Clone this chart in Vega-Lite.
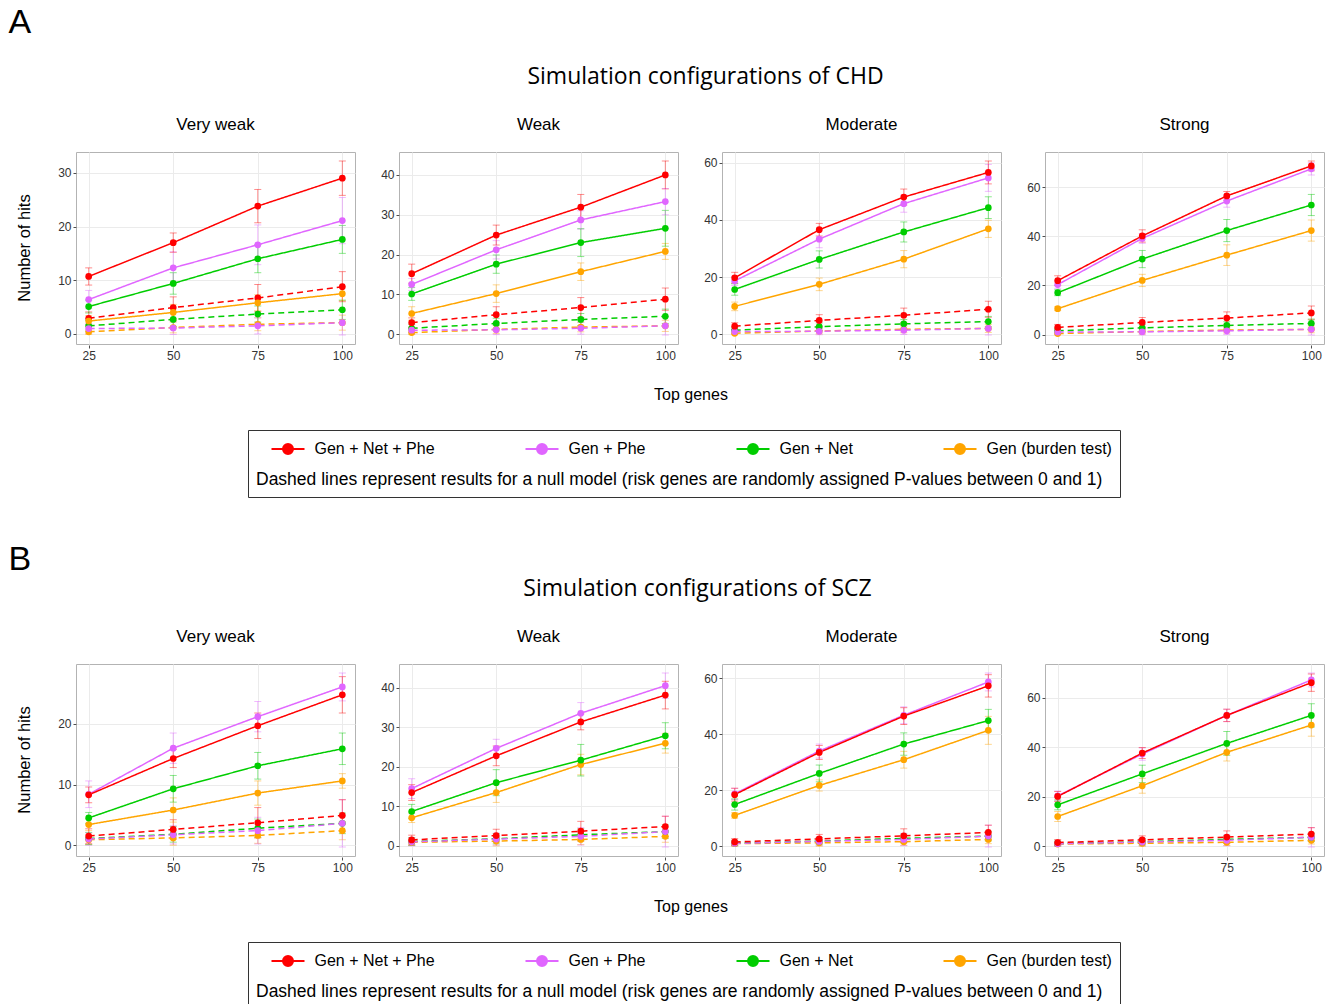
{
"$schema": "https://vega.github.io/schema/vega-lite/v6.json",
"background": "white",
"padding": {"left": 8, "top": 6, "right": 5, "bottom": 5},
"config": {
  "font": "Liberation Sans",
  "view": {"stroke": "#b3b3b3", "strokeWidth": 1},
  "axis": {"grid": true, "gridColor": "#ebebeb", "gridWidth": 1, "domain": false, "tickColor": "#4d4d4d", "tickSize": 3, "labelFontSize": 12, "labelColor": "#333333", "labelPadding": 2},
  "header": {"labelFont": "Liberation Sans", "labelColor": "black", "titleFont": "Liberation Sans", "titleColor": "black"}
},
"datasets": {"d": [
{"s":"CHD","t":"Very weak","m":"Gen (burden test)","n":"null","g":25,"h":0.4,"e":0.5},
{"s":"CHD","t":"Very weak","m":"Gen (burden test)","n":"null","g":50,"h":1.2,"e":1.0},
{"s":"CHD","t":"Very weak","m":"Gen (burden test)","n":"null","g":75,"h":1.8,"e":1.2},
{"s":"CHD","t":"Very weak","m":"Gen (burden test)","n":"null","g":100,"h":2.1,"e":1.4},
{"s":"CHD","t":"Very weak","m":"Gen + Net","n":"null","g":25,"h":1.5,"e":1.0},
{"s":"CHD","t":"Very weak","m":"Gen + Net","n":"null","g":50,"h":2.7,"e":1.3},
{"s":"CHD","t":"Very weak","m":"Gen + Net","n":"null","g":75,"h":3.7,"e":1.5},
{"s":"CHD","t":"Very weak","m":"Gen + Net","n":"null","g":100,"h":4.5,"e":1.8},
{"s":"CHD","t":"Very weak","m":"Gen + Phe","n":"null","g":25,"h":1.0,"e":0.9},
{"s":"CHD","t":"Very weak","m":"Gen + Phe","n":"null","g":50,"h":1.1,"e":1.2},
{"s":"CHD","t":"Very weak","m":"Gen + Phe","n":"null","g":75,"h":1.5,"e":1.5},
{"s":"CHD","t":"Very weak","m":"Gen + Phe","n":"null","g":100,"h":2.1,"e":2.3},
{"s":"CHD","t":"Very weak","m":"Gen + Net + Phe","n":"null","g":25,"h":2.9,"e":1.2},
{"s":"CHD","t":"Very weak","m":"Gen + Net + Phe","n":"null","g":50,"h":4.9,"e":2.0},
{"s":"CHD","t":"Very weak","m":"Gen + Net + Phe","n":"null","g":75,"h":6.7,"e":2.5},
{"s":"CHD","t":"Very weak","m":"Gen + Net + Phe","n":"null","g":100,"h":8.8,"e":2.8},
{"s":"CHD","t":"Very weak","m":"Gen (burden test)","n":"real","g":25,"h":2.4,"e":1.0},
{"s":"CHD","t":"Very weak","m":"Gen (burden test)","n":"real","g":50,"h":4.0,"e":1.5},
{"s":"CHD","t":"Very weak","m":"Gen (burden test)","n":"real","g":75,"h":5.8,"e":1.5},
{"s":"CHD","t":"Very weak","m":"Gen (burden test)","n":"real","g":100,"h":7.5,"e":1.3},
{"s":"CHD","t":"Very weak","m":"Gen + Net","n":"real","g":25,"h":5.1,"e":1.2},
{"s":"CHD","t":"Very weak","m":"Gen + Net","n":"real","g":50,"h":9.4,"e":2.0},
{"s":"CHD","t":"Very weak","m":"Gen + Net","n":"real","g":75,"h":14.0,"e":2.6},
{"s":"CHD","t":"Very weak","m":"Gen + Net","n":"real","g":100,"h":17.6,"e":2.6},
{"s":"CHD","t":"Very weak","m":"Gen + Phe","n":"real","g":25,"h":6.4,"e":1.7},
{"s":"CHD","t":"Very weak","m":"Gen + Phe","n":"real","g":50,"h":12.3,"e":3.0},
{"s":"CHD","t":"Very weak","m":"Gen + Phe","n":"real","g":75,"h":16.6,"e":3.7},
{"s":"CHD","t":"Very weak","m":"Gen + Phe","n":"real","g":100,"h":21.1,"e":4.3},
{"s":"CHD","t":"Very weak","m":"Gen + Net + Phe","n":"real","g":25,"h":10.7,"e":1.6},
{"s":"CHD","t":"Very weak","m":"Gen + Net + Phe","n":"real","g":50,"h":17.0,"e":1.8},
{"s":"CHD","t":"Very weak","m":"Gen + Net + Phe","n":"real","g":75,"h":23.8,"e":3.1},
{"s":"CHD","t":"Very weak","m":"Gen + Net + Phe","n":"real","g":100,"h":29.0,"e":3.2},
{"s":"CHD","t":"Weak","m":"Gen (burden test)","n":"null","g":25,"h":0.4,"e":0.5},
{"s":"CHD","t":"Weak","m":"Gen (burden test)","n":"null","g":50,"h":1.2,"e":1.0},
{"s":"CHD","t":"Weak","m":"Gen (burden test)","n":"null","g":75,"h":1.8,"e":1.2},
{"s":"CHD","t":"Weak","m":"Gen (burden test)","n":"null","g":100,"h":2.1,"e":1.4},
{"s":"CHD","t":"Weak","m":"Gen + Net","n":"null","g":25,"h":1.5,"e":1.0},
{"s":"CHD","t":"Weak","m":"Gen + Net","n":"null","g":50,"h":2.7,"e":1.3},
{"s":"CHD","t":"Weak","m":"Gen + Net","n":"null","g":75,"h":3.7,"e":1.5},
{"s":"CHD","t":"Weak","m":"Gen + Net","n":"null","g":100,"h":4.5,"e":1.8},
{"s":"CHD","t":"Weak","m":"Gen + Phe","n":"null","g":25,"h":1.0,"e":0.9},
{"s":"CHD","t":"Weak","m":"Gen + Phe","n":"null","g":50,"h":1.1,"e":1.2},
{"s":"CHD","t":"Weak","m":"Gen + Phe","n":"null","g":75,"h":1.5,"e":1.5},
{"s":"CHD","t":"Weak","m":"Gen + Phe","n":"null","g":100,"h":2.1,"e":2.3},
{"s":"CHD","t":"Weak","m":"Gen + Net + Phe","n":"null","g":25,"h":2.9,"e":1.2},
{"s":"CHD","t":"Weak","m":"Gen + Net + Phe","n":"null","g":50,"h":4.9,"e":2.0},
{"s":"CHD","t":"Weak","m":"Gen + Net + Phe","n":"null","g":75,"h":6.7,"e":2.5},
{"s":"CHD","t":"Weak","m":"Gen + Net + Phe","n":"null","g":100,"h":8.8,"e":2.8},
{"s":"CHD","t":"Weak","m":"Gen (burden test)","n":"real","g":25,"h":5.2,"e":1.7},
{"s":"CHD","t":"Weak","m":"Gen (burden test)","n":"real","g":50,"h":10.2,"e":2.2},
{"s":"CHD","t":"Weak","m":"Gen (burden test)","n":"real","g":75,"h":15.7,"e":2.2},
{"s":"CHD","t":"Weak","m":"Gen (burden test)","n":"real","g":100,"h":20.8,"e":2.0},
{"s":"CHD","t":"Weak","m":"Gen + Net","n":"real","g":25,"h":10.1,"e":1.6},
{"s":"CHD","t":"Weak","m":"Gen + Net","n":"real","g":50,"h":17.6,"e":2.3},
{"s":"CHD","t":"Weak","m":"Gen + Net","n":"real","g":75,"h":23.0,"e":3.5},
{"s":"CHD","t":"Weak","m":"Gen + Net","n":"real","g":100,"h":26.6,"e":4.5},
{"s":"CHD","t":"Weak","m":"Gen + Phe","n":"real","g":25,"h":12.5,"e":1.5},
{"s":"CHD","t":"Weak","m":"Gen + Phe","n":"real","g":50,"h":21.2,"e":2.3},
{"s":"CHD","t":"Weak","m":"Gen + Phe","n":"real","g":75,"h":28.7,"e":2.3},
{"s":"CHD","t":"Weak","m":"Gen + Phe","n":"real","g":100,"h":33.3,"e":3.3},
{"s":"CHD","t":"Weak","m":"Gen + Net + Phe","n":"real","g":25,"h":15.2,"e":2.4},
{"s":"CHD","t":"Weak","m":"Gen + Net + Phe","n":"real","g":50,"h":24.9,"e":2.5},
{"s":"CHD","t":"Weak","m":"Gen + Net + Phe","n":"real","g":75,"h":31.9,"e":3.2},
{"s":"CHD","t":"Weak","m":"Gen + Net + Phe","n":"real","g":100,"h":40.0,"e":3.5},
{"s":"CHD","t":"Moderate","m":"Gen (burden test)","n":"null","g":25,"h":0.4,"e":0.5},
{"s":"CHD","t":"Moderate","m":"Gen (burden test)","n":"null","g":50,"h":1.2,"e":1.0},
{"s":"CHD","t":"Moderate","m":"Gen (burden test)","n":"null","g":75,"h":1.8,"e":1.2},
{"s":"CHD","t":"Moderate","m":"Gen (burden test)","n":"null","g":100,"h":2.1,"e":1.4},
{"s":"CHD","t":"Moderate","m":"Gen + Net","n":"null","g":25,"h":1.5,"e":1.0},
{"s":"CHD","t":"Moderate","m":"Gen + Net","n":"null","g":50,"h":2.7,"e":1.3},
{"s":"CHD","t":"Moderate","m":"Gen + Net","n":"null","g":75,"h":3.7,"e":1.5},
{"s":"CHD","t":"Moderate","m":"Gen + Net","n":"null","g":100,"h":4.5,"e":1.8},
{"s":"CHD","t":"Moderate","m":"Gen + Phe","n":"null","g":25,"h":1.0,"e":0.9},
{"s":"CHD","t":"Moderate","m":"Gen + Phe","n":"null","g":50,"h":1.1,"e":1.2},
{"s":"CHD","t":"Moderate","m":"Gen + Phe","n":"null","g":75,"h":1.5,"e":1.5},
{"s":"CHD","t":"Moderate","m":"Gen + Phe","n":"null","g":100,"h":2.1,"e":2.3},
{"s":"CHD","t":"Moderate","m":"Gen + Net + Phe","n":"null","g":25,"h":2.9,"e":1.2},
{"s":"CHD","t":"Moderate","m":"Gen + Net + Phe","n":"null","g":50,"h":4.9,"e":2.0},
{"s":"CHD","t":"Moderate","m":"Gen + Net + Phe","n":"null","g":75,"h":6.7,"e":2.5},
{"s":"CHD","t":"Moderate","m":"Gen + Net + Phe","n":"null","g":100,"h":8.8,"e":2.8},
{"s":"CHD","t":"Moderate","m":"Gen (burden test)","n":"real","g":25,"h":9.8,"e":1.5},
{"s":"CHD","t":"Moderate","m":"Gen (burden test)","n":"real","g":50,"h":17.5,"e":2.2},
{"s":"CHD","t":"Moderate","m":"Gen (burden test)","n":"real","g":75,"h":26.3,"e":3.0},
{"s":"CHD","t":"Moderate","m":"Gen (burden test)","n":"real","g":100,"h":36.9,"e":3.0},
{"s":"CHD","t":"Moderate","m":"Gen + Net","n":"real","g":25,"h":15.7,"e":2.0},
{"s":"CHD","t":"Moderate","m":"Gen + Net","n":"real","g":50,"h":26.2,"e":3.0},
{"s":"CHD","t":"Moderate","m":"Gen + Net","n":"real","g":75,"h":35.8,"e":3.5},
{"s":"CHD","t":"Moderate","m":"Gen + Net","n":"real","g":100,"h":44.3,"e":3.8},
{"s":"CHD","t":"Moderate","m":"Gen + Phe","n":"real","g":25,"h":18.7,"e":1.6},
{"s":"CHD","t":"Moderate","m":"Gen + Phe","n":"real","g":50,"h":33.3,"e":3.0},
{"s":"CHD","t":"Moderate","m":"Gen + Phe","n":"real","g":75,"h":45.7,"e":3.0},
{"s":"CHD","t":"Moderate","m":"Gen + Phe","n":"real","g":100,"h":54.7,"e":4.7},
{"s":"CHD","t":"Moderate","m":"Gen + Net + Phe","n":"real","g":25,"h":19.8,"e":1.9},
{"s":"CHD","t":"Moderate","m":"Gen + Net + Phe","n":"real","g":50,"h":36.6,"e":2.2},
{"s":"CHD","t":"Moderate","m":"Gen + Net + Phe","n":"real","g":75,"h":48.0,"e":2.8},
{"s":"CHD","t":"Moderate","m":"Gen + Net + Phe","n":"real","g":100,"h":56.6,"e":4.0},
{"s":"CHD","t":"Strong","m":"Gen (burden test)","n":"null","g":25,"h":0.4,"e":0.5},
{"s":"CHD","t":"Strong","m":"Gen (burden test)","n":"null","g":50,"h":1.2,"e":1.0},
{"s":"CHD","t":"Strong","m":"Gen (burden test)","n":"null","g":75,"h":1.8,"e":1.2},
{"s":"CHD","t":"Strong","m":"Gen (burden test)","n":"null","g":100,"h":2.1,"e":1.4},
{"s":"CHD","t":"Strong","m":"Gen + Net","n":"null","g":25,"h":1.5,"e":1.0},
{"s":"CHD","t":"Strong","m":"Gen + Net","n":"null","g":50,"h":2.7,"e":1.3},
{"s":"CHD","t":"Strong","m":"Gen + Net","n":"null","g":75,"h":3.7,"e":1.5},
{"s":"CHD","t":"Strong","m":"Gen + Net","n":"null","g":100,"h":4.5,"e":1.8},
{"s":"CHD","t":"Strong","m":"Gen + Phe","n":"null","g":25,"h":1.0,"e":0.9},
{"s":"CHD","t":"Strong","m":"Gen + Phe","n":"null","g":50,"h":1.1,"e":1.2},
{"s":"CHD","t":"Strong","m":"Gen + Phe","n":"null","g":75,"h":1.5,"e":1.5},
{"s":"CHD","t":"Strong","m":"Gen + Phe","n":"null","g":100,"h":2.1,"e":2.3},
{"s":"CHD","t":"Strong","m":"Gen + Net + Phe","n":"null","g":25,"h":2.9,"e":1.2},
{"s":"CHD","t":"Strong","m":"Gen + Net + Phe","n":"null","g":50,"h":4.9,"e":2.0},
{"s":"CHD","t":"Strong","m":"Gen + Net + Phe","n":"null","g":75,"h":6.7,"e":2.5},
{"s":"CHD","t":"Strong","m":"Gen + Net + Phe","n":"null","g":100,"h":8.8,"e":2.8},
{"s":"CHD","t":"Strong","m":"Gen (burden test)","n":"real","g":25,"h":10.5,"e":0.8},
{"s":"CHD","t":"Strong","m":"Gen (burden test)","n":"real","g":50,"h":22.0,"e":2.5},
{"s":"CHD","t":"Strong","m":"Gen (burden test)","n":"real","g":75,"h":32.3,"e":4.2},
{"s":"CHD","t":"Strong","m":"Gen (burden test)","n":"real","g":100,"h":42.3,"e":4.3},
{"s":"CHD","t":"Strong","m":"Gen + Net","n":"real","g":25,"h":17.0,"e":1.2},
{"s":"CHD","t":"Strong","m":"Gen + Net","n":"real","g":50,"h":30.7,"e":3.5},
{"s":"CHD","t":"Strong","m":"Gen + Net","n":"real","g":75,"h":42.3,"e":4.5},
{"s":"CHD","t":"Strong","m":"Gen + Net","n":"real","g":100,"h":52.7,"e":4.3},
{"s":"CHD","t":"Strong","m":"Gen + Phe","n":"real","g":25,"h":20.3,"e":1.5},
{"s":"CHD","t":"Strong","m":"Gen + Phe","n":"real","g":50,"h":39.1,"e":2.0},
{"s":"CHD","t":"Strong","m":"Gen + Phe","n":"real","g":75,"h":54.3,"e":2.5},
{"s":"CHD","t":"Strong","m":"Gen + Phe","n":"real","g":100,"h":67.4,"e":2.5},
{"s":"CHD","t":"Strong","m":"Gen + Net + Phe","n":"real","g":25,"h":21.9,"e":2.0},
{"s":"CHD","t":"Strong","m":"Gen + Net + Phe","n":"real","g":50,"h":40.1,"e":2.5},
{"s":"CHD","t":"Strong","m":"Gen + Net + Phe","n":"real","g":75,"h":56.4,"e":1.8},
{"s":"CHD","t":"Strong","m":"Gen + Net + Phe","n":"real","g":100,"h":68.6,"e":2.0},
{"s":"SCZ","t":"Very weak","m":"Gen (burden test)","n":"null","g":25,"h":0.9,"e":0.8},
{"s":"SCZ","t":"Very weak","m":"Gen (burden test)","n":"null","g":50,"h":1.2,"e":1.2},
{"s":"SCZ","t":"Very weak","m":"Gen (burden test)","n":"null","g":75,"h":1.6,"e":1.3},
{"s":"SCZ","t":"Very weak","m":"Gen (burden test)","n":"null","g":100,"h":2.4,"e":1.5},
{"s":"SCZ","t":"Very weak","m":"Gen + Net","n":"null","g":25,"h":1.1,"e":1.0},
{"s":"SCZ","t":"Very weak","m":"Gen + Net","n":"null","g":50,"h":1.8,"e":1.3},
{"s":"SCZ","t":"Very weak","m":"Gen + Net","n":"null","g":75,"h":2.8,"e":1.5},
{"s":"SCZ","t":"Very weak","m":"Gen + Net","n":"null","g":100,"h":3.6,"e":1.7},
{"s":"SCZ","t":"Very weak","m":"Gen + Phe","n":"null","g":25,"h":1.0,"e":1.0},
{"s":"SCZ","t":"Very weak","m":"Gen + Phe","n":"null","g":50,"h":1.7,"e":1.5},
{"s":"SCZ","t":"Very weak","m":"Gen + Phe","n":"null","g":75,"h":2.4,"e":2.2},
{"s":"SCZ","t":"Very weak","m":"Gen + Phe","n":"null","g":100,"h":3.6,"e":3.9},
{"s":"SCZ","t":"Very weak","m":"Gen + Net + Phe","n":"null","g":25,"h":1.5,"e":1.2},
{"s":"SCZ","t":"Very weak","m":"Gen + Net + Phe","n":"null","g":50,"h":2.6,"e":1.6},
{"s":"SCZ","t":"Very weak","m":"Gen + Net + Phe","n":"null","g":75,"h":3.7,"e":2.5},
{"s":"SCZ","t":"Very weak","m":"Gen + Net + Phe","n":"null","g":100,"h":4.9,"e":2.6},
{"s":"SCZ","t":"Very weak","m":"Gen (burden test)","n":"real","g":25,"h":3.4,"e":1.0},
{"s":"SCZ","t":"Very weak","m":"Gen (burden test)","n":"real","g":50,"h":5.8,"e":2.0},
{"s":"SCZ","t":"Very weak","m":"Gen (burden test)","n":"real","g":75,"h":8.6,"e":2.0},
{"s":"SCZ","t":"Very weak","m":"Gen (burden test)","n":"real","g":100,"h":10.6,"e":1.2},
{"s":"SCZ","t":"Very weak","m":"Gen + Net","n":"real","g":25,"h":4.5,"e":0.9},
{"s":"SCZ","t":"Very weak","m":"Gen + Net","n":"real","g":50,"h":9.3,"e":2.2},
{"s":"SCZ","t":"Very weak","m":"Gen + Net","n":"real","g":75,"h":13.1,"e":2.2},
{"s":"SCZ","t":"Very weak","m":"Gen + Net","n":"real","g":100,"h":15.9,"e":2.6},
{"s":"SCZ","t":"Very weak","m":"Gen + Phe","n":"real","g":25,"h":8.4,"e":2.2},
{"s":"SCZ","t":"Very weak","m":"Gen + Phe","n":"real","g":50,"h":16.0,"e":2.5},
{"s":"SCZ","t":"Very weak","m":"Gen + Phe","n":"real","g":75,"h":21.2,"e":2.5},
{"s":"SCZ","t":"Very weak","m":"Gen + Phe","n":"real","g":100,"h":26.1,"e":2.3},
{"s":"SCZ","t":"Very weak","m":"Gen + Net + Phe","n":"real","g":25,"h":8.3,"e":1.3},
{"s":"SCZ","t":"Very weak","m":"Gen + Net + Phe","n":"real","g":50,"h":14.3,"e":1.5},
{"s":"SCZ","t":"Very weak","m":"Gen + Net + Phe","n":"real","g":75,"h":19.7,"e":2.1},
{"s":"SCZ","t":"Very weak","m":"Gen + Net + Phe","n":"real","g":100,"h":24.8,"e":3.0},
{"s":"SCZ","t":"Weak","m":"Gen (burden test)","n":"null","g":25,"h":0.9,"e":0.8},
{"s":"SCZ","t":"Weak","m":"Gen (burden test)","n":"null","g":50,"h":1.2,"e":1.2},
{"s":"SCZ","t":"Weak","m":"Gen (burden test)","n":"null","g":75,"h":1.6,"e":1.3},
{"s":"SCZ","t":"Weak","m":"Gen (burden test)","n":"null","g":100,"h":2.4,"e":1.5},
{"s":"SCZ","t":"Weak","m":"Gen + Net","n":"null","g":25,"h":1.1,"e":1.0},
{"s":"SCZ","t":"Weak","m":"Gen + Net","n":"null","g":50,"h":1.8,"e":1.3},
{"s":"SCZ","t":"Weak","m":"Gen + Net","n":"null","g":75,"h":2.8,"e":1.5},
{"s":"SCZ","t":"Weak","m":"Gen + Net","n":"null","g":100,"h":3.6,"e":1.7},
{"s":"SCZ","t":"Weak","m":"Gen + Phe","n":"null","g":25,"h":1.0,"e":1.0},
{"s":"SCZ","t":"Weak","m":"Gen + Phe","n":"null","g":50,"h":1.7,"e":1.5},
{"s":"SCZ","t":"Weak","m":"Gen + Phe","n":"null","g":75,"h":2.4,"e":2.2},
{"s":"SCZ","t":"Weak","m":"Gen + Phe","n":"null","g":100,"h":3.6,"e":3.9},
{"s":"SCZ","t":"Weak","m":"Gen + Net + Phe","n":"null","g":25,"h":1.5,"e":1.2},
{"s":"SCZ","t":"Weak","m":"Gen + Net + Phe","n":"null","g":50,"h":2.6,"e":1.6},
{"s":"SCZ","t":"Weak","m":"Gen + Net + Phe","n":"null","g":75,"h":3.7,"e":2.5},
{"s":"SCZ","t":"Weak","m":"Gen + Net + Phe","n":"null","g":100,"h":4.9,"e":2.6},
{"s":"SCZ","t":"Weak","m":"Gen (burden test)","n":"real","g":25,"h":7.1,"e":1.2},
{"s":"SCZ","t":"Weak","m":"Gen (burden test)","n":"real","g":50,"h":13.5,"e":2.5},
{"s":"SCZ","t":"Weak","m":"Gen (burden test)","n":"real","g":75,"h":20.6,"e":2.6},
{"s":"SCZ","t":"Weak","m":"Gen (burden test)","n":"real","g":100,"h":26.0,"e":2.5},
{"s":"SCZ","t":"Weak","m":"Gen + Net","n":"real","g":25,"h":8.7,"e":1.8},
{"s":"SCZ","t":"Weak","m":"Gen + Net","n":"real","g":50,"h":16.0,"e":3.3},
{"s":"SCZ","t":"Weak","m":"Gen + Net","n":"real","g":75,"h":21.7,"e":4.0},
{"s":"SCZ","t":"Weak","m":"Gen + Net","n":"real","g":100,"h":27.9,"e":3.3},
{"s":"SCZ","t":"Weak","m":"Gen + Phe","n":"real","g":25,"h":14.5,"e":2.5},
{"s":"SCZ","t":"Weak","m":"Gen + Phe","n":"real","g":50,"h":24.7,"e":2.3},
{"s":"SCZ","t":"Weak","m":"Gen + Phe","n":"real","g":75,"h":33.6,"e":2.7},
{"s":"SCZ","t":"Weak","m":"Gen + Phe","n":"real","g":100,"h":40.6,"e":3.2},
{"s":"SCZ","t":"Weak","m":"Gen + Net + Phe","n":"real","g":25,"h":13.5,"e":2.0},
{"s":"SCZ","t":"Weak","m":"Gen + Net + Phe","n":"real","g":50,"h":22.8,"e":2.5},
{"s":"SCZ","t":"Weak","m":"Gen + Net + Phe","n":"real","g":75,"h":31.4,"e":2.0},
{"s":"SCZ","t":"Weak","m":"Gen + Net + Phe","n":"real","g":100,"h":38.2,"e":3.5},
{"s":"SCZ","t":"Moderate","m":"Gen (burden test)","n":"null","g":25,"h":0.9,"e":0.8},
{"s":"SCZ","t":"Moderate","m":"Gen (burden test)","n":"null","g":50,"h":1.2,"e":1.2},
{"s":"SCZ","t":"Moderate","m":"Gen (burden test)","n":"null","g":75,"h":1.6,"e":1.3},
{"s":"SCZ","t":"Moderate","m":"Gen (burden test)","n":"null","g":100,"h":2.4,"e":1.5},
{"s":"SCZ","t":"Moderate","m":"Gen + Net","n":"null","g":25,"h":1.1,"e":1.0},
{"s":"SCZ","t":"Moderate","m":"Gen + Net","n":"null","g":50,"h":1.8,"e":1.3},
{"s":"SCZ","t":"Moderate","m":"Gen + Net","n":"null","g":75,"h":2.8,"e":1.5},
{"s":"SCZ","t":"Moderate","m":"Gen + Net","n":"null","g":100,"h":3.6,"e":1.7},
{"s":"SCZ","t":"Moderate","m":"Gen + Phe","n":"null","g":25,"h":1.0,"e":1.0},
{"s":"SCZ","t":"Moderate","m":"Gen + Phe","n":"null","g":50,"h":1.7,"e":1.5},
{"s":"SCZ","t":"Moderate","m":"Gen + Phe","n":"null","g":75,"h":2.4,"e":2.2},
{"s":"SCZ","t":"Moderate","m":"Gen + Phe","n":"null","g":100,"h":3.6,"e":3.9},
{"s":"SCZ","t":"Moderate","m":"Gen + Net + Phe","n":"null","g":25,"h":1.5,"e":1.2},
{"s":"SCZ","t":"Moderate","m":"Gen + Net + Phe","n":"null","g":50,"h":2.6,"e":1.6},
{"s":"SCZ","t":"Moderate","m":"Gen + Net + Phe","n":"null","g":75,"h":3.7,"e":2.5},
{"s":"SCZ","t":"Moderate","m":"Gen + Net + Phe","n":"null","g":100,"h":4.9,"e":2.6},
{"s":"SCZ","t":"Moderate","m":"Gen (burden test)","n":"real","g":25,"h":11.0,"e":1.0},
{"s":"SCZ","t":"Moderate","m":"Gen (burden test)","n":"real","g":50,"h":21.7,"e":2.0},
{"s":"SCZ","t":"Moderate","m":"Gen (burden test)","n":"real","g":75,"h":30.9,"e":3.0},
{"s":"SCZ","t":"Moderate","m":"Gen (burden test)","n":"real","g":100,"h":41.4,"e":5.0},
{"s":"SCZ","t":"Moderate","m":"Gen + Net","n":"real","g":25,"h":14.9,"e":2.0},
{"s":"SCZ","t":"Moderate","m":"Gen + Net","n":"real","g":50,"h":26.0,"e":3.0},
{"s":"SCZ","t":"Moderate","m":"Gen + Net","n":"real","g":75,"h":36.5,"e":4.0},
{"s":"SCZ","t":"Moderate","m":"Gen + Net","n":"real","g":100,"h":44.9,"e":4.0},
{"s":"SCZ","t":"Moderate","m":"Gen + Phe","n":"real","g":25,"h":18.7,"e":2.0},
{"s":"SCZ","t":"Moderate","m":"Gen + Phe","n":"real","g":50,"h":34.0,"e":2.5},
{"s":"SCZ","t":"Moderate","m":"Gen + Phe","n":"real","g":75,"h":46.8,"e":3.0},
{"s":"SCZ","t":"Moderate","m":"Gen + Phe","n":"real","g":100,"h":58.7,"e":3.2},
{"s":"SCZ","t":"Moderate","m":"Gen + Net + Phe","n":"real","g":25,"h":18.4,"e":2.3},
{"s":"SCZ","t":"Moderate","m":"Gen + Net + Phe","n":"real","g":50,"h":33.5,"e":2.5},
{"s":"SCZ","t":"Moderate","m":"Gen + Net + Phe","n":"real","g":75,"h":46.5,"e":3.0},
{"s":"SCZ","t":"Moderate","m":"Gen + Net + Phe","n":"real","g":100,"h":57.3,"e":4.0},
{"s":"SCZ","t":"Strong","m":"Gen (burden test)","n":"null","g":25,"h":0.9,"e":0.8},
{"s":"SCZ","t":"Strong","m":"Gen (burden test)","n":"null","g":50,"h":1.2,"e":1.2},
{"s":"SCZ","t":"Strong","m":"Gen (burden test)","n":"null","g":75,"h":1.6,"e":1.3},
{"s":"SCZ","t":"Strong","m":"Gen (burden test)","n":"null","g":100,"h":2.4,"e":1.5},
{"s":"SCZ","t":"Strong","m":"Gen + Net","n":"null","g":25,"h":1.1,"e":1.0},
{"s":"SCZ","t":"Strong","m":"Gen + Net","n":"null","g":50,"h":1.8,"e":1.3},
{"s":"SCZ","t":"Strong","m":"Gen + Net","n":"null","g":75,"h":2.8,"e":1.5},
{"s":"SCZ","t":"Strong","m":"Gen + Net","n":"null","g":100,"h":3.6,"e":1.7},
{"s":"SCZ","t":"Strong","m":"Gen + Phe","n":"null","g":25,"h":1.0,"e":1.0},
{"s":"SCZ","t":"Strong","m":"Gen + Phe","n":"null","g":50,"h":1.7,"e":1.5},
{"s":"SCZ","t":"Strong","m":"Gen + Phe","n":"null","g":75,"h":2.4,"e":2.2},
{"s":"SCZ","t":"Strong","m":"Gen + Phe","n":"null","g":100,"h":3.6,"e":3.9},
{"s":"SCZ","t":"Strong","m":"Gen + Net + Phe","n":"null","g":25,"h":1.5,"e":1.2},
{"s":"SCZ","t":"Strong","m":"Gen + Net + Phe","n":"null","g":50,"h":2.6,"e":1.6},
{"s":"SCZ","t":"Strong","m":"Gen + Net + Phe","n":"null","g":75,"h":3.7,"e":2.5},
{"s":"SCZ","t":"Strong","m":"Gen + Net + Phe","n":"null","g":100,"h":4.9,"e":2.6},
{"s":"SCZ","t":"Strong","m":"Gen (burden test)","n":"real","g":25,"h":12.0,"e":2.0},
{"s":"SCZ","t":"Strong","m":"Gen (burden test)","n":"real","g":50,"h":24.4,"e":3.0},
{"s":"SCZ","t":"Strong","m":"Gen (burden test)","n":"real","g":75,"h":37.9,"e":3.5},
{"s":"SCZ","t":"Strong","m":"Gen (burden test)","n":"real","g":100,"h":48.9,"e":4.5},
{"s":"SCZ","t":"Strong","m":"Gen + Net","n":"real","g":25,"h":16.7,"e":2.0},
{"s":"SCZ","t":"Strong","m":"Gen + Net","n":"real","g":50,"h":29.2,"e":3.5},
{"s":"SCZ","t":"Strong","m":"Gen + Net","n":"real","g":75,"h":41.5,"e":4.8},
{"s":"SCZ","t":"Strong","m":"Gen + Net","n":"real","g":100,"h":52.8,"e":4.7},
{"s":"SCZ","t":"Strong","m":"Gen + Phe","n":"real","g":25,"h":20.3,"e":2.0},
{"s":"SCZ","t":"Strong","m":"Gen + Phe","n":"real","g":50,"h":37.2,"e":2.5},
{"s":"SCZ","t":"Strong","m":"Gen + Phe","n":"real","g":75,"h":52.8,"e":2.5},
{"s":"SCZ","t":"Strong","m":"Gen + Phe","n":"real","g":100,"h":67.1,"e":2.8},
{"s":"SCZ","t":"Strong","m":"Gen + Net + Phe","n":"real","g":25,"h":20.1,"e":2.0},
{"s":"SCZ","t":"Strong","m":"Gen + Net + Phe","n":"real","g":50,"h":37.6,"e":2.2},
{"s":"SCZ","t":"Strong","m":"Gen + Net + Phe","n":"real","g":75,"h":52.8,"e":2.5},
{"s":"SCZ","t":"Strong","m":"Gen + Net + Phe","n":"real","g":100,"h":66.0,"e":3.5}
]},
"resolve": {"legend": {"color": "independent", "strokeDash": "independent"}},
"spacing": 45,
"vconcat": [
{
  "title": {"text": "A", "anchor": "start", "fontSize": 34, "fontWeight": "normal", "font": "Liberation Sans", "color": "black", "offset": 26, "dx": -8},
  "vconcat": [{
    "data": {"name": "d"},
    "transform": [{"filter": "datum.s === 'CHD'"}],
    "title": {"text": "Simulation configurations of CHD", "anchor": "middle", "font": "Open Sans", "fontSize": 23, "fontWeight": "normal", "color": "black", "offset": 27, "dx": 35},
    "facet": {
      "row": {"field": "s", "type": "nominal", "header": {"title": null, "labelExpr": "'Number of hits'", "labelAngle": -90, "labelOrient": "left", "labelFontSize": 16.5, "labelPadding": 16}},
      "column": {"field": "t", "type": "nominal", "sort": ["Very weak", "Weak", "Moderate", "Strong"], "header": {"title": "Top genes", "titleOrient": "bottom", "labelOrient": "top", "labelFontSize": 17, "titleFontSize": 16, "titleFontWeight": "normal", "labelPadding": 17, "titlePadding": 16}}
    },
    "spacing": {"column": 24, "row": 10},
    "resolve": {"scale": {"y": "independent"}},
    "spec": {
      "width": 279, "height": 192,
      "encoding": {
        "x": {"field": "g", "type": "quantitative", "scale": {"domain": [21.25, 103.75], "nice": false}, "axis": {"values": [25, 50, 75, 100], "title": null}},
        "y": {"field": "h", "type": "quantitative", "scale": {"zero": false, "nice": false, "padding": 9}, "axis": {"tickCount": 4, "title": null}},
        "color": {"field": "m", "type": "nominal", "scale": {"domain": ["Gen + Net + Phe", "Gen + Phe", "Gen + Net", "Gen (burden test)"], "range": ["#ff0000", "#e066ff", "#00cd00", "#ffa500"]},
          "legend": {"orient": "none", "legendX": 172, "legendY": 278, "direction": "horizontal", "title": "Dashed lines represent results for a null model (risk genes are randomly assigned P-values between 0 and 1)", "titleOrient": "bottom", "titleFontSize": 17.5, "titleFontWeight": "normal", "titleColor": "black", "titleLimit": 1200, "titlePadding": 13, "labelFontSize": 16, "labelColor": "black", "labelLimit": 400, "labelOffset": 15.5, "symbolOffset": 21, "columnPadding": 75, "symbolType": "M-1.65,0L1.65,0M-0.5,0A0.5,0.5,0,1,1,0.5,0A0.5,0.5,0,1,1,-0.5,0Z", "symbolSize": 400, "symbolStrokeWidth": 2, "strokeColor": "#333333", "padding": 8,
            "encode": {"symbols": {"update": {"fill": {"scale": "color", "field": "value"}, "stroke": {"scale": "color", "field": "value"}, "opacity": {"value": 1}, "strokeDash": {"value": []}}}}}}
      },
      "layer": [
        {"mark": {"type": "errorbar", "ticks": true, "size": 7, "thickness": 1, "rule": {"opacity": 0.45}, "ticks": {"opacity": 0.45}}, "encoding": {"yError": {"field": "e"}}},
        {"mark": {"type": "line", "strokeWidth": 1.5}, "encoding": {"strokeDash": {"field": "n", "type": "nominal", "scale": {"domain": ["real", "null"], "range": [[1, 0], [6, 4]]}, "legend": null}}},
        {"mark": {"type": "point", "filled": true, "opacity": 1, "size": 45}, "encoding": {"detail": {"field": "n"}}}
      ]
    }
  }]
},
{
  "title": {"text": "B", "anchor": "start", "fontSize": 34, "fontWeight": "normal", "font": "Liberation Sans", "color": "black", "offset": 1, "dx": -8},
  "vconcat": [{
    "data": {"name": "d"},
    "transform": [{"filter": "datum.s === 'SCZ'"}],
    "title": {"text": "Simulation configurations of SCZ", "anchor": "middle", "font": "Open Sans", "fontSize": 23, "fontWeight": "normal", "color": "black", "offset": 27, "dx": 27},
    "facet": {
      "row": {"field": "s", "type": "nominal", "header": {"title": null, "labelExpr": "'Number of hits'", "labelAngle": -90, "labelOrient": "left", "labelFontSize": 16.5, "labelPadding": 16}},
      "column": {"field": "t", "type": "nominal", "sort": ["Very weak", "Weak", "Moderate", "Strong"], "header": {"title": "Top genes", "titleOrient": "bottom", "labelOrient": "top", "labelFontSize": 17, "titleFontSize": 16, "titleFontWeight": "normal", "labelPadding": 17, "titlePadding": 16}}
    },
    "spacing": {"column": 24, "row": 10},
    "resolve": {"scale": {"y": "independent"}},
    "spec": {
      "width": 279, "height": 192,
      "encoding": {
        "x": {"field": "g", "type": "quantitative", "scale": {"domain": [21.25, 103.75], "nice": false}, "axis": {"values": [25, 50, 75, 100], "title": null}},
        "y": {"field": "h", "type": "quantitative", "scale": {"zero": false, "nice": false, "padding": 9}, "axis": {"tickCount": 4, "title": null}},
        "color": {"field": "m", "type": "nominal", "scale": {"domain": ["Gen + Net + Phe", "Gen + Phe", "Gen + Net", "Gen (burden test)"], "range": ["#ff0000", "#e066ff", "#00cd00", "#ffa500"]},
          "legend": {"orient": "none", "legendX": 172, "legendY": 278, "direction": "horizontal", "title": "Dashed lines represent results for a null model (risk genes are randomly assigned P-values between 0 and 1)", "titleOrient": "bottom", "titleFontSize": 17.5, "titleFontWeight": "normal", "titleColor": "black", "titleLimit": 1200, "titlePadding": 13, "labelFontSize": 16, "labelColor": "black", "labelLimit": 400, "labelOffset": 15.5, "symbolOffset": 21, "columnPadding": 75, "symbolType": "M-1.65,0L1.65,0M-0.5,0A0.5,0.5,0,1,1,0.5,0A0.5,0.5,0,1,1,-0.5,0Z", "symbolSize": 400, "symbolStrokeWidth": 2, "strokeColor": "#333333", "padding": 8,
            "encode": {"symbols": {"update": {"fill": {"scale": "color", "field": "value"}, "stroke": {"scale": "color", "field": "value"}, "opacity": {"value": 1}, "strokeDash": {"value": []}}}}}}
      },
      "layer": [
        {"mark": {"type": "errorbar", "ticks": true, "size": 7, "thickness": 1, "rule": {"opacity": 0.45}, "ticks": {"opacity": 0.45}}, "encoding": {"yError": {"field": "e"}}},
        {"mark": {"type": "line", "strokeWidth": 1.5}, "encoding": {"strokeDash": {"field": "n", "type": "nominal", "scale": {"domain": ["real", "null"], "range": [[1, 0], [6, 4]]}, "legend": null}}},
        {"mark": {"type": "point", "filled": true, "opacity": 1, "size": 45}, "encoding": {"detail": {"field": "n"}}}
      ]
    }
  }]
}
]
}
